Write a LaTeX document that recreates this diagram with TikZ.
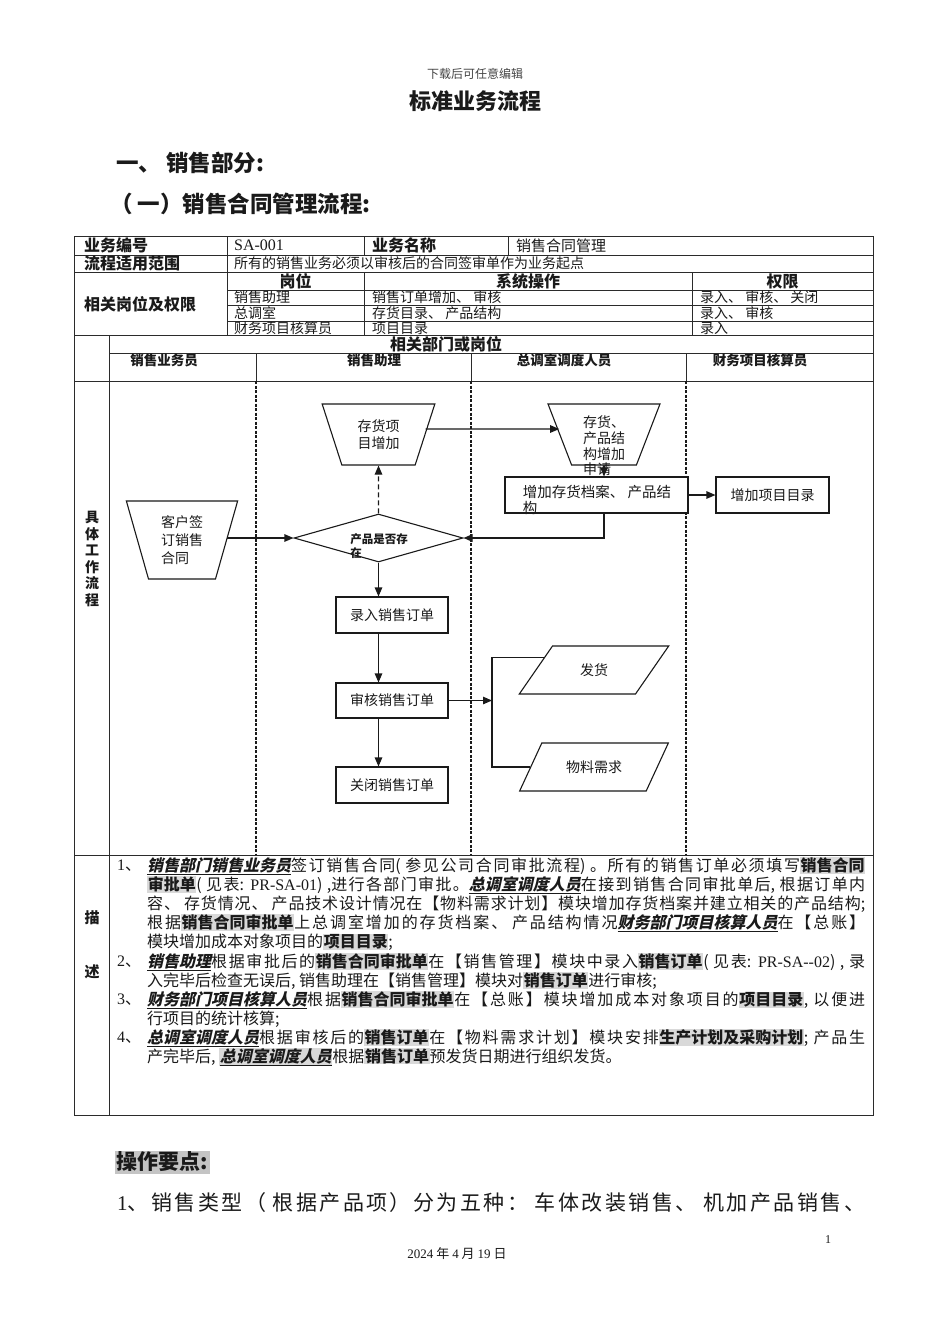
\documentclass[tikz,border=0pt]{standalone}
\usepackage{fontspec}
\setmainfont{Noto Sans CJK SC}
\newfontfamily\latinserif{Liberation Serif}
\usepackage{tikz}
\usetikzlibrary{arrows.meta, shapes.geometric, calc}
\definecolor{doc_text}{HTML}{1A1A1A}
\definecolor{doc_line}{HTML}{2B2B2B}
\definecolor{doc_note}{HTML}{444444}
\definecolor{doc_mark}{HTML}{D9D9D9}
\definecolor{doc_markdark}{HTML}{C4C4C4}

% stretchable glue between CJK characters, used for justified lines
\newXeTeXintercharclass\cjkchar
\newcount\cjkcode
\cjkcode="3000
\loop
  \XeTeXcharclass\cjkcode=\cjkchar
  \advance\cjkcode by 1
\ifnum\cjkcode<"A000 \repeat
\cjkcode="FF00
\loop
  \XeTeXcharclass\cjkcode=\cjkchar
  \advance\cjkcode by 1
\ifnum\cjkcode<"FFF0 \repeat
\XeTeXinterchartoks\cjkchar\cjkchar={\hskip 0pt plus 3pt\relax}

\newcommand{\keyterm}[1]{{\setlength{\fboxsep}{0.6pt}\colorbox{doc_mark}{\bfseries #1}}}
\newcommand{\actor}[1]{\underline{\bfseries\addfontfeature{FakeSlant=0.22}#1}}
\newcommand{\spread}[2]{\hbox to #1{\XeTeXinterchartokenstate=1 #2}}

\begin{document}
\begin{tikzpicture}[
    x=1pt, y=-1pt,
    >={Triangle[length=9pt, width=7.5pt]},
    every node/.style={inner sep=0pt, text=doc_text},
    rule/.style={line width=0.9pt, draw=doc_line},
    lane/.style={line width=1.1pt, draw=doc_text, dash pattern=on 3pt off 1.5pt},
    flow/.style={line width=1.1pt, draw=doc_text},
    bodytext/.style={font=\fontsize{14}{14}\selectfont, anchor=west},
    headtext/.style={font=\bfseries\fontsize{16}{16}\selectfont},
    lanetext/.style={font=\bfseries\fontsize{13.5}{13.5}\selectfont},
    desctext/.style={font=\fontsize{16}{16}\selectfont, anchor=west},
    manual/.style={trapezium, trapezium stretches=true, draw=doc_text,
        fill=white, line width=1.1pt, inner sep=2pt},
    process/.style={rectangle, draw=doc_text, fill=white, line width=1.1pt,
        minimum width=112pt, minimum height=36pt, font=\fontsize{14}{14}\selectfont},
    decision/.style={diamond, draw=doc_text, fill=white, line width=1.1pt,
        inner sep=2pt, minimum width=169pt, minimum height=48pt},
    datashape/.style={trapezium, trapezium stretches=true,
        trapezium left angle=53, trapezium right angle=127,
        draw=doc_text, fill=white, line width=1.1pt, inner sep=2pt,
        minimum width=150pt, minimum height=48pt, font=\fontsize{14}{14}\selectfont}
]

% Page
\fill[white] (0,0) rectangle (950,1344);
\useasboundingbox (0,0) rectangle (950,1344);

% Page heading
\node[font=\fontsize{12}{12}\selectfont, text=doc_note] (note) at (475,74) {下载后可任意编辑};
\node[font=\bfseries\fontsize{22}{22}\selectfont] (title) at (475,101) {标准业务流程};
\node[font=\bfseries\fontsize{22.5}{22.5}\selectfont, anchor=west] (part) at (116,163) {一、 销售部分:};
\node[font=\bfseries\fontsize{22.5}{22.5}\selectfont, anchor=west] (section) at (110,204) {（ 一）销售合同管理流程:};

% Table frame and rules
\draw[rule] (74,236) rectangle (873,1115);
\draw[rule] (74,255) -- (873,255);
\draw[rule] (74,272) -- (873,272);
\draw[rule] (227,290) -- (873,290);
\draw[rule] (227,305) -- (873,305);
\draw[rule] (227,321) -- (873,321);
\draw[rule] (74,335) -- (873,335);
\draw[rule] (109,353) -- (873,353);
\draw[rule] (74,381) -- (873,381);
\draw[rule] (74,855) -- (873,855);
\draw[rule] (227,236) -- (227,335);
\draw[rule] (364,236) -- (364,255);
\draw[rule] (508,236) -- (508,255);
\draw[rule] (364,272) -- (364,335);
\draw[rule] (692,272) -- (692,335);
\draw[rule] (109,335) -- (109,1115);

% Swimlane separators
\foreach \x in {256,471,686} {
  \draw[rule] (\x,353) -- (\x,381);
  \draw[lane] (\x,381) -- (\x,855);
}

% Table header cells
\node[headtext, anchor=west] (codelbl) at (84,245.5) {业务编号};
\node[bodytext] (code) at (234,245.5) {\latinserif\fontsize{16}{16}\selectfont SA-001};
\node[headtext, anchor=west] (namelbl) at (372,245.5) {业务名称};
\node[bodytext, font=\fontsize{15}{15}\selectfont] (name) at (516,245.5) {销售合同管理};
\node[headtext, anchor=west] (scopelbl) at (84,263.5) {流程适用范围};
\node[bodytext] (scope) at (234,263.5) {所有的销售业务必须以审核后的合同签审单作为业务起点};
\node[headtext, anchor=west] (rolelbl) at (84,304) {相关岗位及权限};
\node[headtext] (posthead) at (295.5,281) {岗位};
\node[headtext] (ophead) at (528,281) {系统操作};
\node[headtext] (righthead) at (782.5,281) {权限};

% Role rows
\node[bodytext] (post1) at (234,297.5) {销售助理};
\node[bodytext] (op1) at (372,297.5) {销售订单增加、 审核};
\node[bodytext] (right1) at (700,297.5) {录入、 审核、 关闭};
\node[bodytext] (post2) at (234,313) {总调室};
\node[bodytext] (op2) at (372,313) {存货目录、 产品结构};
\node[bodytext] (right2) at (700,313) {录入、 审核};
\node[bodytext] (post3) at (234,328) {财务项目核算员};
\node[bodytext] (op3) at (372,328) {项目目录};
\node[bodytext] (right3) at (700,328) {录入};

% Swimlane headings
\node[headtext] (deptlbl) at (446,344) {相关部门或岗位};
\node[lanetext] (lane1) at (164,360) {销售业务员};
\node[lanetext] (lane2) at (374,360) {销售助理};
\node[lanetext] (lane3) at (564,360) {总调室调度人员};
\node[lanetext] (lane4) at (760,360) {财务项目核算员};

% Left column labels
\node[font=\bfseries\fontsize{14}{16.6}\selectfont, align=center] (flowlbl) at (92,559) {具\\体\\工\\作\\流\\程};
\node[font=\bfseries\fontsize{15}{15}\selectfont] (desclbl1) at (92,918) {描};
\node[font=\bfseries\fontsize{15}{15}\selectfont] (desclbl2) at (92,972) {述};

% Flow shapes
\node[manual, trapezium left angle=106, trapezium right angle=106,
      minimum width=112pt, minimum height=78pt, align=left,
      font=\fontsize{14}{18}\selectfont] (customer) at (182,540) {客户签\\订销售\\合同};
\node[manual, trapezium left angle=110, trapezium right angle=110,
      minimum width=113pt, minimum height=61pt, align=left,
      font=\fontsize{14}{17}\selectfont] (stockadd) at (378.5,434.5) {存货项\\目增加};
\node[manual, trapezium left angle=110, trapezium right angle=110,
      minimum width=112pt, minimum height=61pt] (apply) at (604,434.5) {};
\node[decision] (check) at (378.5,538) {};
\node[process] (entry) at (392,615) {录入销售订单};
\node[process, minimum height=35pt] (audit) at (392,700.5) {审核销售订单};
\node[process] (close) at (392,785) {关闭销售订单};
\node[process, minimum width=183pt] (addinv) at (596.5,495) {};
\node[process, minimum width=113pt] (addproj) at (772.5,495) {增加项目目录};
\node[datashape] (ship) at (594,670) {发货};
\node[datashape] (material) at (594,767) {物料需求};

% Texts that run over their shapes
\node[font=\fontsize{14}{15.7}\selectfont, align=left] (apply-txt) at (604,446) {存货、\\产品结\\构增加\\申请};
\node[font=\bfseries\fontsize{11.5}{14}\selectfont, align=left] (check-txt) at (379,546) {产品是否存\\在};
\node[font=\fontsize{14.5}{15.5}\selectfont, align=left] (addinv-txt) at (597,500) {增加存货档案、 产品结\\构};

% Connectors
\coordinate (fork) at (492,700.5);
\draw[flow, ->] (customer.east |- check.west) -- (check.west);
\draw[flow, ->, dash pattern=on 5pt off 3pt] (check.north) -- (stockadd.south);
\draw[flow, ->] ([yshift=5.5pt]stockadd.east) -- ([yshift=5.5pt]apply.west);
\draw[flow, ->] (apply.south) -- (apply.south |- addinv.north);
\draw[flow, ->] (apply.south |- addinv.south) |- (check.east);
\draw[flow, ->] (addinv.east) -- (addproj.west);
\draw[flow, ->] (check.south) -- (check.south |- entry.north);
\draw[flow, ->] (check.south |- entry.south) -- (check.south |- audit.north);
\draw[flow, ->] (check.south |- audit.south) -- (check.south |- close.north);
\draw[flow, ->] (audit.east) -- (fork);
\draw[flow] ($(ship.top left corner)!0.25!(ship.bottom left corner)$) -| (fork) |- (material.west);

% Description of the work steps
\node[desctext] (num1) at (117,866) {{\latinserif 1}、};
\node[desctext] (d1a) at (147,866) {\spread{718pt}{\actor{销售部门销售业务员}签订销售合同( 参见公司合同审批流程) 。所有的销售订单必须填写\keyterm{销售合同}}};
\node[desctext] (d1b) at (147,885) {\spread{718pt}{\keyterm{审批单}( 见表: {\latinserif PR-SA-01}) ,进行各部门审批。\actor{总调室调度人员}在接到销售合同审批单后, 根据订单内}};
\node[desctext] (d1c) at (147,904) {\spread{718pt}{容、 存货情况、 产品技术设计情况在【物料需求计划】模块增加存货档案并建立相关的产品结构;}};
\node[desctext] (d1d) at (147,923) {\spread{718pt}{根据\keyterm{销售合同审批单}上总调室增加的存货档案、 产品结构情况\actor{财务部门项目核算人员}在【总账】}};
\node[desctext] (d1e) at (147,942) {模块增加成本对象项目的\keyterm{项目目录};};
\node[desctext] (num2) at (117,962) {{\latinserif 2}、};
\node[desctext] (d2a) at (147,962) {\spread{718pt}{\actor{销售助理}根据审批后的\keyterm{销售合同审批单}在【销售管理】模块中录入\keyterm{销售订单}( 见表: {\latinserif PR-SA--02}) , 录}};
\node[desctext] (d2b) at (147,981) {入完毕后检查无误后, 销售助理在【销售管理】模块对\keyterm{销售订单}进行审核;};
\node[desctext] (num3) at (117,1000) {{\latinserif 3}、};
\node[desctext] (d3a) at (147,1000) {\spread{718pt}{\actor{财务部门项目核算人员}根据\keyterm{销售合同审批单}在【总账】模块增加成本对象项目的\keyterm{项目目录}, 以便进}};
\node[desctext] (d3b) at (147,1019) {行项目的统计核算;};
\node[desctext] (num4) at (117,1038) {{\latinserif 4}、};
\node[desctext] (d4a) at (147,1038) {\spread{718pt}{\actor{总调室调度人员}根据审核后的\keyterm{销售订单}在【物料需求计划】模块安排\keyterm{生产计划及采购计划}; 产品生}};
\node[desctext] (d4b) at (147,1057) {产完毕后, \keyterm{\actor{总调室调度人员}}根据\keyterm{销售订单}预发货日期进行组织发货。};

% Operating points below the table
\node[font=\bfseries\fontsize{21}{21}\selectfont, anchor=west, fill=doc_markdark, inner sep=1.5pt] (keypoints) at (115,1162) {操作要点:};
\node[font=\fontsize{21}{21}\selectfont, anchor=west] (point1) at (117,1203) {\spread{748pt}{{\latinserif 1}、销售类型（ 根据产品项）分为五种：  车体改装销售、  机加产品销售、}};

% Footer
\node[font=\latinserif\fontsize{12}{12}\selectfont] (pageno) at (828,1240) {1};
\node[font=\fontsize{13}{13}\selectfont] (date) at (457,1254) {{\latinserif 2024} 年 {\latinserif 4} 月 {\latinserif 19} 日};

\end{tikzpicture}
\end{document}
